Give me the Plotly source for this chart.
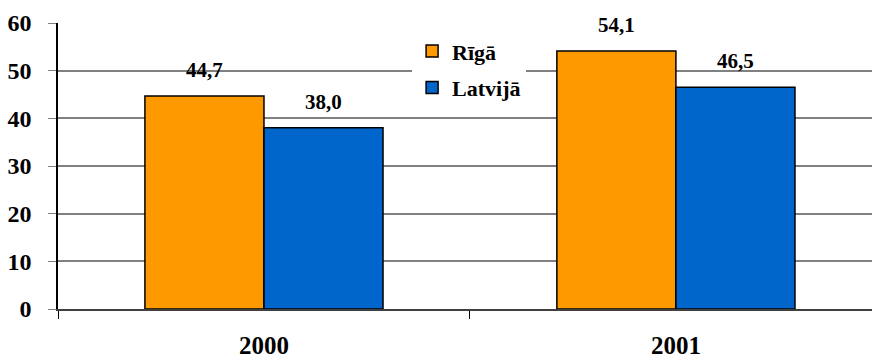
import plotly.graph_objects as go

years = ["2000", "2001"]
riga = [44.7, 54.1]
latvija = [38.0, 46.5]
series_names = ["Rīgā", "Latvijā"]
colors = ["#FF9900", "#0066CC"]
y_ticks = [0, 10, 20, 30, 40, 50, 60]

FONT = "Liberation Serif"
bargap = 0.422
bar_w = (1 - bargap) / 2

fig = go.Figure()
for name, vals, col in zip(series_names, [riga, latvija], colors):
    fig.add_trace(go.Bar(
        x=years, y=vals, name=f"<b>{name}</b>", legendgroup=name,
        marker=dict(color=col, line=dict(color="black", width=1.5)),
    ))

# value labels above bars
for si, vals in enumerate([riga, latvija]):
    off = (si - 0.5) * bar_w
    for ci, v in enumerate(vals):
        fig.add_annotation(
            x=ci + off, y=v, xref="x", yref="y",
            text="<b>" + f"{v:.1f}".replace(".", ",") + "</b>",
            showarrow=False, yanchor="bottom", yshift=12,
            font=dict(family=FONT, size=21, color="black"),
        )

fig.update_layout(
    template="none",
    width=872, height=358,
    margin=dict(l=58, r=0, t=23, b=49),
    paper_bgcolor="white", plot_bgcolor="white",
    barmode="group", bargap=bargap, bargroupgap=0,
    font=dict(family=FONT, color="black"),
    legend=dict(
        x=0.435, y=0.975, xanchor="left", yanchor="top",
        bgcolor="white", borderwidth=0,
        font=dict(family=FONT, size=22, color="black"),
        tracegroupgap=5, traceorder="grouped",
    ),
    xaxis=dict(
        type="category", range=[-0.5, 1.476], automargin=False,
        tickvals=years, ticktext=[f"<b>{y}</b>" for y in years],
        showline=True, linecolor="#404040", linewidth=1.5,
        ticks="outside", ticklen=8, tickcolor="black", tickson="boundaries",
        showgrid=False, ticklabelstandoff=13,
        tickfont=dict(family=FONT, size=25, color="black"),
    ),
    yaxis=dict(
        range=[0, 60], tickvals=y_ticks, ticktext=[f"<b>{t}</b>" for t in y_ticks],
        automargin=False,
        showline=True, linecolor="black", linewidth=1.5,
        ticks="outside", ticklen=8, tickcolor="#808080",
        showgrid=True, gridcolor="#808080", gridwidth=1.5,
        zeroline=False, ticklabelstandoff=12,
        tickfont=dict(family=FONT, size=24, color="black"),
    ),
)

fig.write_html("out.html", config={"displayModeBar": False},
               post_script="document.body.style.margin='0';")
